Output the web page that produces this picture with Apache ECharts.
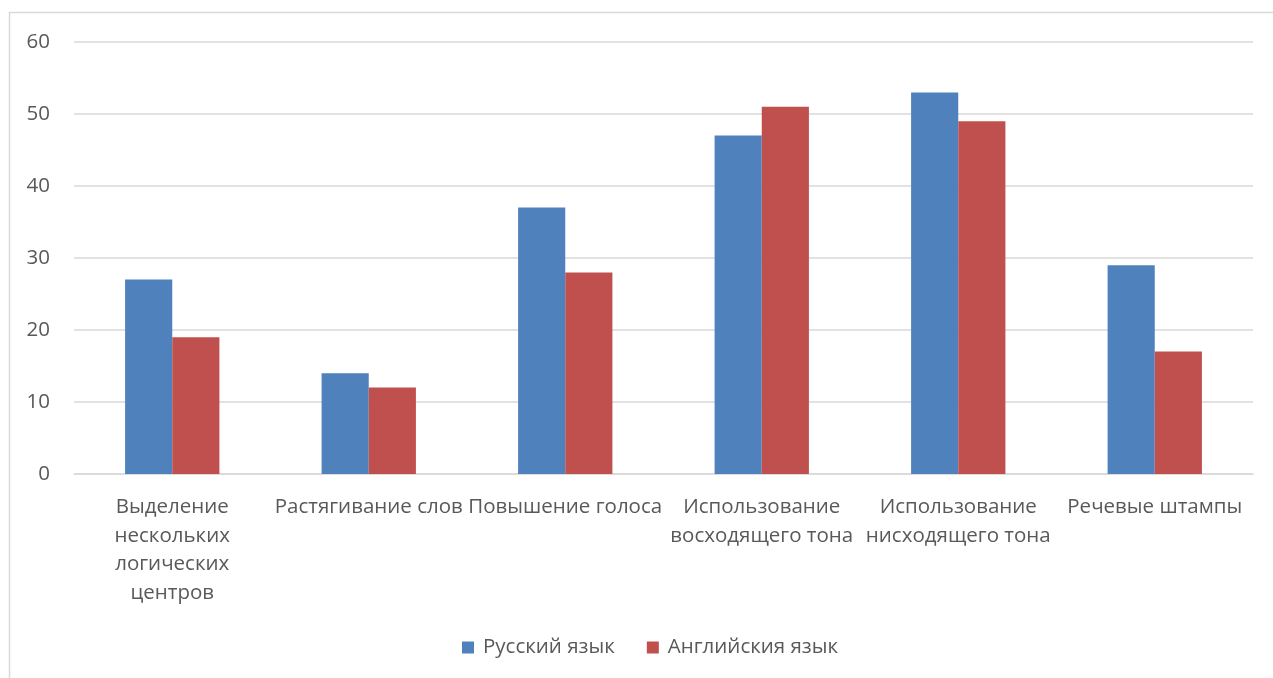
<!DOCTYPE html>
<html>
<head>
<meta charset="utf-8">
<script src="https://cdn.jsdelivr.net/npm/echarts@6/dist/echarts.min.js"></script>
<style>
  html, body { margin: 0; padding: 0; background: #ffffff; }
  #chart { width: 1273px; height: 678px; }
</style>
</head>
<body>
<div id="chart"></div>
<script>
// Categories (line breaks follow the wrapped axis labels)
const categories = [
  'Выделение\nнескольких\nлогических\nцентров',
  'Растягивание слов',
  'Повышение голоса',
  'Использование\nвосходящего тона',
  'Использование\nнисходящего тона',
  'Речевые штампы'
];
const seriesNames = ['Русский язык', 'Английския язык'];
const russianValues = [27, 14, 37, 47, 53, 29];
const englishValues = [19, 12, 28, 51, 49, 17];
const yTicks = [0, 10, 20, 30, 40, 50, 60];

const FONT = '"Open Sans", "Noto Sans", sans-serif';
const TEXT = '#595959';
const GRID = '#d9d9d9';
const FS = 20.5;

const chart = echarts.init(document.getElementById('chart'), null, { renderer: 'canvas' });
chart.setOption({
  animation: false,
  backgroundColor: '#ffffff',
  textStyle: { fontFamily: FONT, color: TEXT },
  graphic: [{
    type: 'rect',
    shape: { x: 9.5, y: 12.5, width: 1300, height: 700 },
    style: { fill: 'none', stroke: GRID, lineWidth: 1.5 },
    silent: true
  }],
  grid: { left: 74, right: 20, top: 42, bottom: 204, containLabel: false },
  legend: {
    bottom: 15,
    left: 457,
    itemWidth: 12,
    itemHeight: 12,
    itemGap: 32,
    icon: 'rect',
    textStyle: { fontFamily: FONT, fontSize: FS, color: TEXT, padding: [0, 0, 0, 4] },
    data: seriesNames
  },
  xAxis: {
    type: 'category',
    data: categories,
    axisLine: { show: true, lineStyle: { color: GRID, width: 1.5 } },
    axisTick: { show: false },
    axisLabel: {
      interval: 0,
      margin: 19,
      fontFamily: FONT,
      fontSize: FS,
      lineHeight: 28.5,
      color: TEXT,
      align: 'center'
    }
  },
  yAxis: {
    type: 'value',
    min: yTicks[0],
    max: yTicks[yTicks.length - 1],
    interval: yTicks[1] - yTicks[0],
    axisLine: { show: false },
    axisTick: { show: false },
    splitLine: { lineStyle: { color: GRID, width: 1.5 } },
    axisLabel: { margin: 24, fontFamily: FONT, fontSize: FS, color: TEXT }
  },
  series: [
    {
      name: seriesNames[0],
      type: 'bar',
      data: russianValues,
      itemStyle: { color: '#4f81bd' },
      barGap: '0%',
      barCategoryGap: '52%'
    },
    {
      name: seriesNames[1],
      type: 'bar',
      data: englishValues,
      itemStyle: { color: '#c0504d' },
      barGap: '0%',
      barCategoryGap: '52%'
    }
  ]
});
</script>
</body>
</html>
